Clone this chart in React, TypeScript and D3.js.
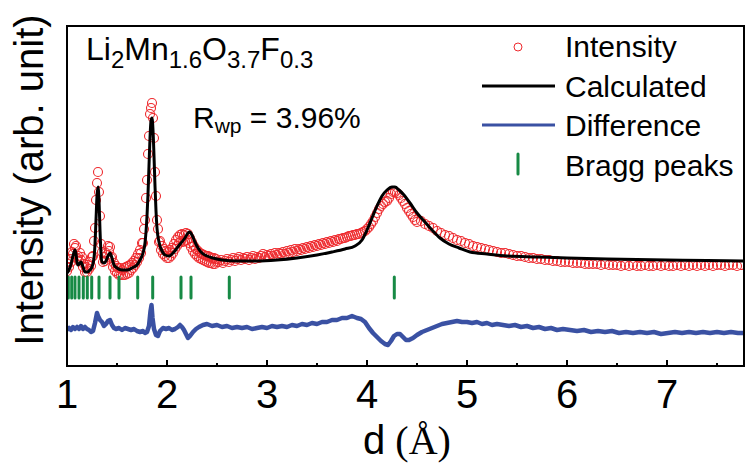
import React from 'react';
import * as d3 from 'd3';

// ---------- data (intensity in arbitrary units) ----------
// Observed intensity, three scan segments on a regular d grid
const obsStartA = 1.0;
const obsStepA = 0.01;
const obsValsA = [
  95, 102, 99, 107, 104, 114, 112, 122, 118, 120,
  108, 110, 105, 113, 106, 109, 99, 102, 94, 99,
  94, 101, 97, 104, 100, 109, 110, 125, 138, 166,
  183, 194, 174, 150, 122, 114, 104, 109, 105, 113,
  111, 120, 115, 119, 108, 109, 99, 103, 95, 100,
  93, 98, 91, 98, 91, 96, 91, 98, 91, 99,
  92, 100, 93, 101, 96, 103, 98, 105, 101, 108,
  104, 112, 108, 116, 113, 123, 123, 137, 146, 168,
  186, 212, 230, 252, 258, 263, 248, 228, 194, 170,
  146, 137, 124, 125, 116, 120, 112, 117, 110, 115,
  108, 114, 108, 116, 110, 118, 113, 122, 117, 126,
  120, 129, 123, 131, 125, 132, 124, 131, 125, 133,
  126, 132, 123, 128, 119, 124, 115, 120, 112, 117,
  110, 115, 108, 113, 107, 112, 106, 111, 105, 110,
  104, 110, 103, 109, 103, 108, 102, 108, 102, 107,
  104,
];
const obsStartB = 2.52;
const obsStepB = 0.02;
const obsValsB = [
  104, 106, 103, 105, 107, 104, 106, 108, 105, 107,
  109, 106, 108, 107, 109, 106, 108, 110, 107, 109,
  108, 110, 112, 109, 111, 110, 112, 110, 113, 111,
  113, 112, 114, 112, 115, 113, 116, 114, 117, 115,
  117, 116, 118, 117, 119, 118, 120, 119, 121, 120,
  122, 121, 123, 122, 124, 123, 125, 124, 126, 125,
  127, 127, 128, 128, 129, 130, 130, 131, 131, 132,
  132, 133, 134, 135, 137, 139, 142, 145, 149, 153,
  157, 160, 162, 164, 165, 168, 172, 174, 174, 173,
  171, 168, 165, 162, 158, 155, 152, 149, 146, 144,
];
const obsStartC = 4.54;
const obsStepC = 0.04;
const obsValsC = [
  145, 142, 140, 138, 135, 133, 131, 130, 128, 126,
  125, 123, 122, 120, 119, 118, 117, 116, 115, 114,
  113, 113, 112, 111, 110, 110, 109, 108, 108, 107,
  107, 106, 106, 105, 105, 104, 104, 104, 103, 103,
  103, 102, 102, 102, 102, 101, 102, 101, 101, 101,
  100, 101, 100, 101, 100, 100, 101, 100, 100, 101,
  100, 101, 100, 100, 101, 100, 101, 100, 101, 100,
  101, 100, 101, 100, 101, 101, 100, 101, 101, 100,
  101,
];

// Calculated profile
const calcD = [
  1.0, 1.02, 1.04, 1.06, 1.08, 1.09, 1.1, 1.11, 1.13, 1.14, 1.16, 1.18, 1.2, 1.23, 1.25,
  1.27, 1.28, 1.29, 1.3, 1.31, 1.32, 1.33, 1.34, 1.35, 1.37, 1.39, 1.41, 1.43, 1.45, 1.47,
  1.5, 1.55, 1.6, 1.65, 1.7, 1.73, 1.76, 1.78, 1.79, 1.8, 1.81, 1.82, 1.83, 1.84, 1.85,
  1.86, 1.87, 1.88, 1.89, 1.9, 1.92, 1.95, 1.98, 2.02, 2.06, 2.1, 2.14, 2.18, 2.21, 2.23,
  2.25, 2.28, 2.31, 2.35, 2.4, 2.46, 2.55, 2.7, 2.9, 3.1, 3.3, 3.5, 3.65, 3.78, 3.88,
  3.95, 4.0, 4.05, 4.1, 4.15, 4.2, 4.25, 4.28, 4.32, 4.37, 4.43, 4.5, 4.57, 4.65, 4.73,
  4.82, 4.92, 5.03, 5.2, 5.4, 5.7, 6.0, 6.4, 7.0, 7.4, 7.77,
];
const calcI = [
  93, 96, 102, 110, 116, 112, 104, 101, 103, 104, 99, 94, 94, 96, 99,
  108, 122, 146, 170, 179, 166, 136, 113, 104, 103, 105, 110, 113, 108, 101,
  98, 96, 96, 98, 101, 106, 113, 123, 134, 150, 172, 200, 228, 245, 248,
  236, 210, 180, 155, 138, 124, 115, 111, 110, 113, 118, 123, 128, 133, 134,
  131, 124, 118, 113, 110, 108, 106, 105, 105, 106, 108, 111, 114, 117, 120,
  126, 136, 148, 160, 170, 176, 179, 179, 176, 171, 163, 153, 145, 136, 128,
  122, 118, 114, 112, 110, 109, 108, 107, 106, 105.5, 105,
];

// Difference (observed - calculated, offset) as [d, intensity]
const diffPts: [number, number][] = [
  [1.0, 36], [1.02, 38], [1.04, 36], [1.06, 39], [1.08, 37], [1.1, 39], [1.12, 37], [1.14, 40],
  [1.16, 37], [1.18, 39], [1.2, 37], [1.22, 36], [1.24, 34], [1.26, 35], [1.28, 43], [1.3, 53],
  [1.31, 50], [1.33, 46], [1.35, 44], [1.37, 40], [1.39, 42], [1.41, 45], [1.43, 46], [1.45, 41],
  [1.47, 38], [1.49, 37], [1.52, 38], [1.55, 36], [1.58, 38], [1.61, 37], [1.64, 36], [1.67, 37],
  [1.7, 35], [1.73, 34], [1.76, 35], [1.78, 33], [1.8, 34], [1.82, 40], [1.835, 55], [1.845, 61],
  [1.855, 48], [1.87, 37], [1.89, 31], [1.91, 30], [1.93, 35], [1.96, 38], [1.99, 37], [2.02, 38],
  [2.05, 36], [2.08, 37], [2.11, 39], [2.13, 41], [2.15, 39], [2.17, 36], [2.19, 32], [2.21, 28],
  [2.23, 30], [2.26, 34], [2.29, 37], [2.32, 39], [2.36, 41], [2.4, 42], [2.45, 40], [2.5, 41],
  [2.55, 39], [2.6, 40], [2.65, 38], [2.7, 39], [2.75, 38], [2.8, 39], [2.85, 37], [2.9, 38],
  [2.95, 39], [3.0, 38], [3.05, 40], [3.1, 39], [3.15, 40], [3.2, 39], [3.25, 41], [3.3, 40],
  [3.35, 42], [3.4, 41], [3.45, 43], [3.5, 42], [3.55, 44], [3.6, 44], [3.65, 46], [3.7, 46],
  [3.75, 48], [3.8, 48], [3.85, 50], [3.9, 48], [3.94, 47], [3.98, 44], [4.02, 38], [4.06, 33],
  [4.1, 29], [4.14, 25], [4.18, 22], [4.21, 21], [4.24, 25], [4.27, 30], [4.3, 32], [4.33, 32],
  [4.36, 29], [4.39, 26], [4.42, 26], [4.46, 28], [4.5, 31], [4.55, 34], [4.6, 36], [4.65, 38],
  [4.7, 40], [4.75, 42], [4.8, 43], [4.85, 44], [4.9, 45], [4.95, 44], [5.0, 44], [5.05, 43],
  [5.1, 44], [5.15, 42], [5.2, 43], [5.25, 41], [5.3, 42], [5.36, 41], [5.42, 40], [5.48, 41],
  [5.54, 39], [5.6, 40], [5.66, 38], [5.72, 39], [5.78, 37], [5.84, 38], [5.9, 36], [5.96, 37],
  [6.03, 36], [6.1, 35], [6.17, 36], [6.24, 34], [6.31, 35], [6.38, 34], [6.45, 35], [6.52, 33],
  [6.59, 34], [6.66, 33], [6.73, 34], [6.8, 33], [6.87, 34], [6.94, 32], [7.01, 33], [7.08, 34],
  [7.15, 33], [7.22, 34], [7.29, 33], [7.36, 34], [7.43, 33], [7.5, 34], [7.57, 33], [7.64, 34],
  [7.71, 33], [7.76, 33],
];

// Bragg reflection positions
const braggD = [
  1.013, 1.047, 1.08, 1.12, 1.163, 1.203, 1.247, 1.32, 1.43, 1.52, 1.707, 1.857,
  2.14, 2.24, 2.623, 4.273,
];

const xTicks = [1, 2, 3, 4, 5, 6, 7];
const xMinorTicks = [1.5, 2.5, 3.5, 4.5, 5.5, 6.5, 7.5];

const legendLabels = ['Intensity', 'Calculated', 'Difference', 'Bragg peaks'];

// ---------- styling ----------
const SANS = '"Liberation Sans", Arial, sans-serif';
const SERIF = '"Liberation Serif", "Times New Roman", serif';
const RED = '#ee2a2e';
const BLUE = '#3a51a3';
const GREEN = '#178a45';

const W = 745;
const H = 466;
const PL = 67, PR = 744, PT = 26, PB = 366;

function seg(start: number, step: number, vals: number[]) {
  return vals.map((v, i) => ({ d: +(start + i * step).toFixed(4), v }));
}

export default function App() {
  const x = d3.scaleLinear().domain([1, 7.77]).range([PL, PR]);
  const y = d3.scaleLinear().domain([0, 340]).range([PB, PT]);

  const obs = [
    ...seg(obsStartA, obsStepA, obsValsA),
    ...seg(obsStartB, obsStepB, obsValsB),
    ...seg(obsStartC, obsStepC, obsValsC),
  ];
  const calc = calcD.map((d, i) => ({ d, v: calcI[i] }));
  const diff = diffPts.map(([d, v]) => ({ d, v }));

  const calcLine = d3
    .line<{ d: number; v: number }>()
    .x((p) => x(p.d))
    .y((p) => y(p.v))
    .curve(d3.curveMonotoneX);
  const diffLine = d3
    .line<{ d: number; v: number }>()
    .x((p) => x(p.d))
    .y((p) => y(p.v))
    .curve(d3.curveLinear);

  const braggTop = y(89);
  const braggBot = y(68);

  const legX = 565;
  const legBase = [57, 96.5, 136, 175.5];

  return (
    <svg
      width={W}
      height={H}
      style={{ position: 'absolute', left: 0, top: 0, background: '#fff' }}
      fontFamily={SANS}
    >
      <defs>
        <clipPath id="plotClip">
          <rect x={PL + 1} y={PT + 1} width={PR - PL - 2} height={PB - PT - 2} />
        </clipPath>
      </defs>
      <rect x={0} y={0} width={W} height={H} fill="#fff" />

      <g clipPath="url(#plotClip)">
        {obs.map((p, i) => (
          <circle
            key={i}
            cx={x(p.d)}
            cy={y(p.v)}
            r={4.5}
            fill="none"
            stroke={RED}
            strokeWidth={1.1}
          />
        ))}
        <path d={calcLine(calc) || ''} fill="none" stroke="#000" strokeWidth={3} strokeLinejoin="round" />
        <path d={diffLine(diff) || ''} fill="none" stroke={BLUE} strokeWidth={4.5} strokeLinejoin="round" />
        {braggD.map((d, i) => (
          <line
            key={i}
            x1={x(d)}
            x2={x(d)}
            y1={braggTop}
            y2={braggBot}
            stroke={GREEN}
            strokeWidth={3}
            strokeLinecap="round"
          />
        ))}
      </g>

      {/* frame */}
      <rect x={PL} y={PT} width={PR - PL} height={PB - PT} fill="none" stroke="#000" strokeWidth={2} />

      {/* ticks */}
      {xTicks.map((t) => (
        <line key={'M' + t} x1={x(t)} x2={x(t)} y1={PB} y2={PB - 6} stroke="#000" strokeWidth={2} />
      ))}
      {xMinorTicks.map((t) => (
        <line key={'m' + t} x1={x(t)} x2={x(t)} y1={PB} y2={PB - 3} stroke="#000" strokeWidth={2} />
      ))}
      {xTicks.map((t) => (
        <text key={'l' + t} x={x(t)} y={408} fontSize={40} textAnchor="middle" fill="#000">
          {t}
        </text>
      ))}

      {/* axis titles */}
      <text x={407} y={454} fontSize={40} textAnchor="middle" fill="#000">
        d<tspan fontFamily={SERIF}> (Å)</tspan>
      </text>
      <text
        transform="rotate(-90)"
        x={-180}
        y={43}
        fontSize={40}
        textAnchor="middle"
        fill="#000"
      >
        Intensity (arb. unit)
      </text>

      {/* annotations */}
      <text x={86} y={60} fontSize={32} fill="#000">
        Li<tspan fontSize={24} dy={8}>2</tspan>
        <tspan dy={-8}>Mn</tspan>
        <tspan fontSize={24} dy={8}>1.6</tspan>
        <tspan dy={-8}>O</tspan>
        <tspan fontSize={24} dy={8}>3.7</tspan>
        <tspan dy={-8}>F</tspan>
        <tspan fontSize={24} dy={8}>0.3</tspan>
      </text>
      <text x={193} y={128} fontSize={30} fill="#000">
        R<tspan fontSize={21} dy={5}>wp</tspan>
        <tspan dy={-5}> = 3.96%</tspan>
      </text>

      {/* legend */}
      <circle cx={518} cy={47} r={4} fill="none" stroke={RED} strokeWidth={1} />
      <line x1={482} x2={555} y1={86} y2={86} stroke="#000" strokeWidth={3} />
      <line x1={482} x2={555} y1={125} y2={125} stroke={BLUE} strokeWidth={3} />
      <line x1={518} x2={518} y1={154} y2={174} stroke={GREEN} strokeWidth={3} strokeLinecap="round" />
      {legendLabels.map((lab, i) => (
        <text key={lab} x={legX} y={legBase[i]} fontSize={30} fill="#000">
          {lab}
        </text>
      ))}
    </svg>
  );
}
